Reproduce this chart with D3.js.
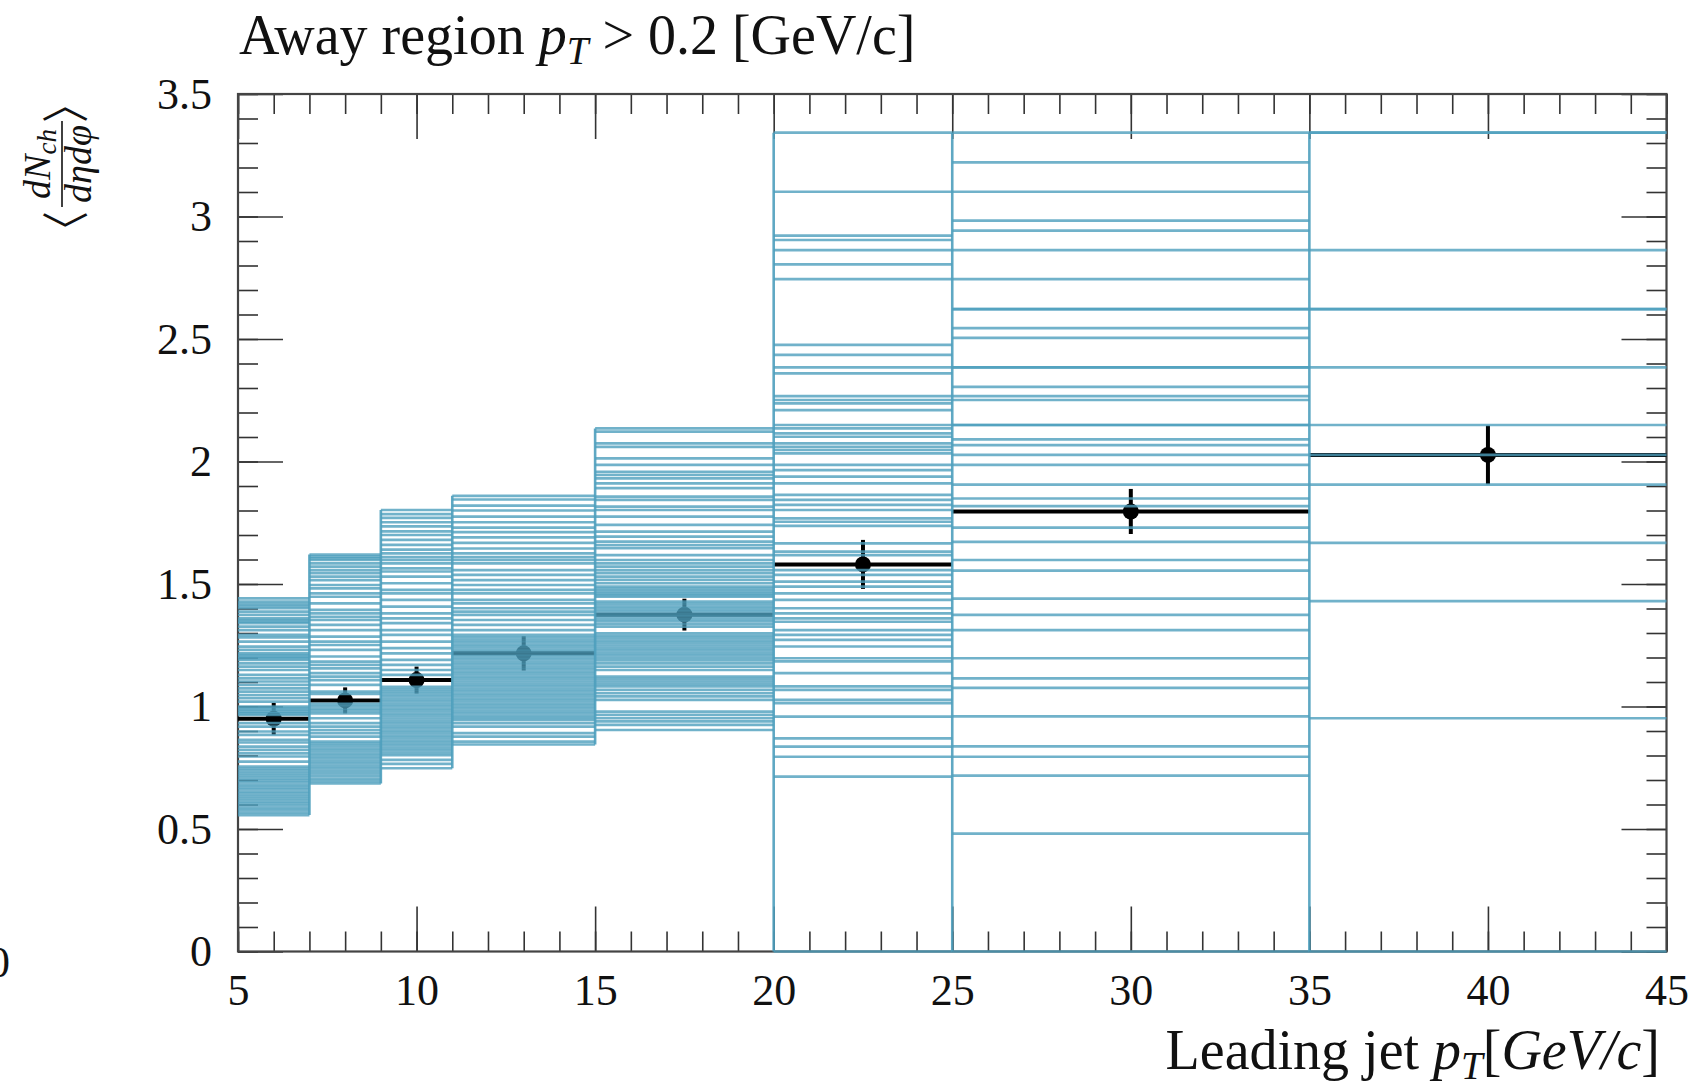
<!DOCTYPE html>
<html><head><meta charset="utf-8">
<script src="https://cdn.jsdelivr.net/npm/d3@7"></script>
<style>body{margin:0;background:#fff} svg{display:block}</style>
</head><body>
<svg id="c" width="1689" height="1087"></svg>
<script>
// ---------- data ----------
const binEdges = [5, 7, 9, 11, 15, 20, 25, 35, 45];
const dataX   = [6, 8, 10, 13, 17.5, 22.5, 30, 40];
const dataY   = [0.950, 1.025, 1.108, 1.217, 1.375, 1.580, 1.796, 2.027];
const dataErr = [0.065, 0.053, 0.055, 0.070, 0.065, 0.100, 0.092, 0.120];

// MC variation values in each leading-jet pT bin
const mcBin1 = [1.441,1.428,1.418,1.410,1.401,1.387,1.374,1.360,1.353,1.346,1.340,1.326,1.312,1.292,1.282,1.265,1.244,1.231,1.217,1.210,1.203,1.197,1.190,1.176,1.163,1.149,1.129,1.115,1.102,1.088,1.074,1.061,1.047,1.034,1.020,1.000,0.993,0.986,0.979,0.972,0.966,0.932,0.918,0.898,0.884,0.864,0.853,0.836,0.823,0.809,0.796,0.775,0.755,0.746,0.737,0.727,0.718,0.708,0.699,0.690,0.680,0.671,0.662,0.652,0.643,0.633,0.624,0.614,0.605,0.596,0.586,0.577,0.567,0.557];
const mcBin2 = [1.620,1.612,1.605,1.598,1.584,1.571,1.557,1.544,1.530,1.516,1.496,1.482,1.462,1.448,1.421,1.394,1.380,1.366,1.353,1.333,1.312,1.285,1.265,1.251,1.231,1.204,1.183,1.170,1.156,1.136,1.122,1.108,1.088,1.061,1.051,1.011,1.001,0.991,0.982,0.972,0.952,0.932,0.918,0.904,0.891,0.877,0.857,0.848,0.838,0.828,0.818,0.808,0.798,0.788,0.778,0.768,0.758,0.748,0.738,0.727,0.717,0.706,0.696,0.686];
const mcBin3 = [1.802,1.785,1.770,1.752,1.735,1.715,1.700,1.680,1.660,1.640,1.625,1.610,1.598,1.584,1.564,1.551,1.530,1.503,1.476,1.462,1.435,1.408,1.380,1.360,1.340,1.312,1.292,1.265,1.238,1.217,1.190,1.170,1.149,1.129,1.080,1.070,1.061,1.051,1.041,1.031,1.021,1.011,1.001,0.991,0.981,0.971,0.961,0.951,0.941,0.931,0.921,0.911,0.901,0.891,0.881,0.871,0.861,0.851,0.841,0.831,0.821,0.811,0.801,0.782,0.766,0.748];
const mcBin4 = [1.860,1.845,1.820,1.800,1.775,1.752,1.730,1.712,1.690,1.668,1.645,1.625,1.610,1.598,1.584,1.557,1.537,1.516,1.496,1.476,1.462,1.435,1.421,1.401,1.387,1.374,1.353,1.333,1.312,1.292,1.282,1.272,1.262,1.252,1.242,1.232,1.222,1.212,1.202,1.192,1.182,1.172,1.162,1.152,1.142,1.132,1.122,1.112,1.102,1.092,1.082,1.072,1.062,1.052,1.042,1.032,1.022,1.012,1.002,0.992,0.982,0.972,0.962,0.953,0.945,0.932,0.918,0.891,0.877,0.857,0.845];
const mcBin5 = [2.135,2.122,2.074,2.060,2.013,1.986,1.958,1.945,1.931,1.911,1.891,1.857,1.843,1.816,1.802,1.775,1.741,1.714,1.693,1.673,1.659,1.646,1.618,1.598,1.584,1.571,1.557,1.544,1.530,1.517,1.503,1.489,1.480,1.471,1.462,1.455,1.448,1.428,1.418,1.408,1.398,1.388,1.378,1.368,1.358,1.348,1.337,1.326,1.299,1.289,1.279,1.269,1.259,1.249,1.239,1.229,1.219,1.209,1.199,1.188,1.176,1.163,1.149,1.122,1.112,1.102,1.092,1.082,1.068,1.054,1.041,1.027,0.979,0.966,0.952,0.939,0.925,0.904];
const mcBin6 = [3.342,3.101,2.922,2.904,2.863,2.805,2.744,2.476,2.435,2.384,2.360,2.267,2.251,2.237,2.210,2.149,2.135,2.115,2.101,2.074,2.060,2.047,2.033,1.986,1.965,1.938,1.911,1.864,1.843,1.823,1.802,1.768,1.754,1.737,1.666,1.632,1.618,1.557,1.537,1.510,1.489,1.462,1.435,1.401,1.380,1.360,1.346,1.312,1.292,1.272,1.245,1.197,1.184,1.136,1.082,1.068,1.027,1.014,0.959,0.870,0.836,0.795,0.714,0];
const mcBin7 = [3.342,3.221,3.101,2.983,2.942,2.863,2.744,2.622,2.622,2.544,2.505,2.384,2.384,2.305,2.267,2.251,2.149,2.149,2.090,2.067,2.027,1.986,1.906,1.849,1.818,1.730,1.672,1.598,1.555,1.440,1.374,1.312,1.197,1.115,1.076,0.960,0.837,0.795,0.718,0.481,0];
const mcBin8 = [3.342,3.342,2.863,2.622,2.622,2.384,2.149,2.027,1.906,1.668,1.430,0.952,0];
const mcBins = [mcBin1, mcBin2, mcBin3, mcBin4, mcBin5, mcBin6, mcBin7, mcBin8];

const xTickValues = [5, 10, 15, 20, 25, 30, 35, 40, 45];
const yTickValues = [0, 0.5, 1, 1.5, 2, 2.5, 3, 3.5];
const yTickLabels = ["0", "0.5", "1", "1.5", "2", "2.5", "3", "3.5"];

// ---------- chart ----------
const svg = d3.select("#c");
const x = d3.scaleLinear().domain([5, 45]).range([238, 1666.5]);
const y = d3.scaleLinear().domain([0, 3.5]).range([951.5, 94]);
const xMinor = d3.range(5, 45.5, 1);
const yMinor = d3.range(0, 3.55, 0.1);

const TICK = "#333";
function styleAxis(g) {
  g.select(".domain").remove();
  g.selectAll(".tick line").attr("stroke", TICK).attr("stroke-width", 1.6);
}
const serif = "'Liberation Serif', 'Times New Roman', serif";

// bottom
svg.append("g").attr("transform", `translate(0,${y(0)})`)
  .call(d3.axisBottom(x).tickValues(xMinor).tickSize(-20).tickFormat("")).call(styleAxis);
svg.append("g").attr("transform", `translate(0,${y(0)})`)
  .call(d3.axisBottom(x).tickValues(xTickValues).tickSize(-45).tickPadding(22).tickFormat(d3.format("d")))
  .call(styleAxis)
  .call(g => g.selectAll("text").attr("font-family", serif).attr("font-size", 44).attr("fill", "#111"));
// top
svg.append("g").attr("transform", `translate(0,${y(3.5)})`)
  .call(d3.axisTop(x).tickValues(xMinor).tickSize(-20).tickFormat("")).call(styleAxis);
svg.append("g").attr("transform", `translate(0,${y(3.5)})`)
  .call(d3.axisTop(x).tickValues(xTickValues).tickSize(-45).tickFormat("")).call(styleAxis);
// left
svg.append("g").attr("transform", `translate(${x(5)},0)`)
  .call(d3.axisLeft(y).tickValues(yMinor).tickSize(-20).tickFormat("")).call(styleAxis);
svg.append("g").attr("transform", `translate(${x(5)},0)`)
  .call(d3.axisLeft(y).tickValues(yTickValues).tickSize(-45).tickPadding(26)
        .tickFormat((d, i) => yTickLabels[i]))
  .call(styleAxis)
  .call(g => g.selectAll("text").attr("font-family", serif).attr("font-size", 44).attr("fill", "#111"));
// right
svg.append("g").attr("transform", `translate(${x(45)},0)`)
  .call(d3.axisRight(y).tickValues(yMinor).tickSize(-20).tickFormat("")).call(styleAxis);
svg.append("g").attr("transform", `translate(${x(45)},0)`)
  .call(d3.axisRight(y).tickValues(yTickValues).tickSize(-45).tickFormat("")).call(styleAxis);

// frame
svg.append("rect").attr("x", x(5)).attr("y", y(3.5))
  .attr("width", x(45) - x(5)).attr("height", y(0) - y(3.5))
  .attr("fill", "none").attr("stroke", "#444").attr("stroke-width", 2.2);

// data points (drawn beneath MC lines)
const idx = d3.range(dataY.length);
const gd = svg.append("g");
gd.selectAll("line.xe").data(idx).join("line")
  .attr("x1", i => x(binEdges[i])).attr("x2", i => x(binEdges[i + 1]))
  .attr("y1", i => y(dataY[i])).attr("y2", i => y(dataY[i]))
  .attr("stroke", "#000").attr("stroke-width", 4);
gd.selectAll("line.ye").data(idx).join("line")
  .attr("x1", i => x(dataX[i])).attr("x2", i => x(dataX[i]))
  .attr("y1", i => y(dataY[i] - dataErr[i])).attr("y2", i => y(dataY[i] + dataErr[i]))
  .attr("stroke", "#000").attr("stroke-width", 4);
gd.selectAll("circle").data(idx).join("circle")
  .attr("cx", i => x(dataX[i])).attr("cy", i => y(dataY[i])).attr("r", 8).attr("fill", "#000");

// MC variations
const MC = "#4e9fbd";
const mcFlat = mcBins.flatMap((vals, j) => vals.map(v => ({ j, v })));
const gm = svg.append("g");
gm.selectAll("line.h").data(mcFlat).join("line")
  .attr("x1", d => x(binEdges[d.j])).attr("x2", d => x(binEdges[d.j + 1]))
  .attr("y1", d => y(d.v)).attr("y2", d => y(d.v))
  .attr("stroke", MC).attr("stroke-width", 2.7).attr("stroke-opacity", 0.8);
const edgeIdx = d3.range(1, binEdges.length - 1);
gm.selectAll("line.v").data(edgeIdx).join("line")
  .attr("x1", k => x(binEdges[k])).attr("x2", k => x(binEdges[k]))
  .attr("y1", k => y(Math.min(d3.min(mcBins[k - 1]), d3.min(mcBins[k]))))
  .attr("y2", k => y(Math.max(d3.max(mcBins[k - 1]), d3.max(mcBins[k]))))
  .attr("stroke", MC).attr("stroke-width", 2.6).attr("stroke-opacity", 0.9);

// title
const title = svg.append("text").attr("x", 239).attr("y", 54)
  .attr("font-family", serif).attr("font-size", 56).attr("fill", "#111");
title.append("tspan").text("Away region ");
title.append("tspan").attr("font-style", "italic").text("p");
title.append("tspan").attr("font-style", "italic").attr("font-size", 39).attr("dy", 10).text("T");
title.append("tspan").attr("dy", -10).text(" > 0.2 [GeV/c]");

// x label
const xl = svg.append("text").attr("x", 1660).attr("y", 1069).attr("text-anchor", "end")
  .attr("font-family", serif).attr("font-size", 56).attr("fill", "#111");
xl.append("tspan").text("Leading jet ");
xl.append("tspan").attr("font-style", "italic").text("p");
xl.append("tspan").attr("font-style", "italic").attr("font-size", 39).attr("dy", 10).text("T");
xl.append("tspan").attr("dy", -10).text("[");
xl.append("tspan").attr("font-style", "italic").text("GeV/c");
xl.append("tspan").text("]");

// y label (rotated fraction)
const yl = svg.append("g").attr("transform", "translate(62,164) rotate(-90)")
  .attr("font-family", serif).attr("fill", "#111");
const num = yl.append("text").attr("x", 0).attr("y", -12).attr("text-anchor", "middle")
  .attr("font-size", 38).attr("font-style", "italic");
num.append("tspan").text("dN");
num.append("tspan").attr("font-size", 27).attr("dy", 6).text("ch");
yl.append("line").attr("x1", -43).attr("x2", 43).attr("y1", 0).attr("y2", 0)
  .attr("stroke", "#111").attr("stroke-width", 1.6);
yl.append("text").attr("x", 0).attr("y", 29).attr("text-anchor", "middle")
  .attr("font-size", 38).attr("font-style", "italic").text("dηdφ");
const bl = -66, br = 60;
yl.append("text").attr("x", bl).attr("y", 0)
  .attr("transform", `translate(${bl},0) scale(0.75,0.95) translate(${-bl},0)`)
  .attr("text-anchor", "middle").attr("dominant-baseline", "central")
  .attr("font-family", "'Noto Sans CJK SC'").attr("font-size", 50).text("〈");
yl.append("text").attr("x", br).attr("y", 0)
  .attr("transform", `translate(${br},0) scale(0.75,0.95) translate(${-br},0)`)
  .attr("text-anchor", "middle").attr("dominant-baseline", "central")
  .attr("font-family", "'Noto Sans CJK SC'").attr("font-size", 50).text("〉");

// stray glyph at the left edge (from a neighbouring panel)
svg.append("text").attr("x", 10).attr("y", 977).attr("text-anchor", "end")
  .attr("font-family", serif).attr("font-size", 44).attr("fill", "#111").text("0");
</script>
</body></html>
